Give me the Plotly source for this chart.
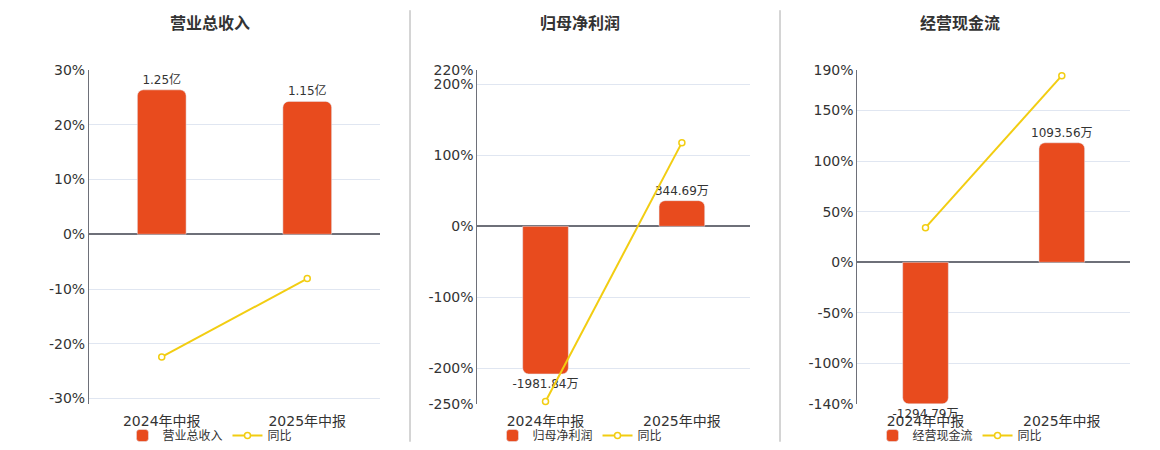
import plotly.graph_objects as go

categories = ["2024年中报", "2025年中报"]

titles = ["营业总收入", "归母净利润", "经营现金流"]
revenue = [1.25, 1.15]            # 亿
net_profit = [-1981.84, 344.69]   # 万
cash_flow = [-1294.79, 1093.56]   # 万
units = ["亿", "万", "万"]

revenue_yoy = [-22.4, -8.1]
net_profit_yoy = [-246.4, 117.8]
cash_flow_yoy = [34.2, 184.4]

ticks_1 = [-30, -20, -10, 0, 10, 20, 30]
ticks_2 = [-250, -200, -100, 0, 100, 200, 220]
ticks_3 = [-140, -100, -50, 0, 50, 100, 150, 190]

BAR = "#E84B1E"
LINE = "#F2CD12"
FONT = "DejaVu Sans, Noto Sans CJK SC"

bars = [revenue, net_profit, cash_flow]
yoys = [revenue_yoy, net_profit_yoy, cash_flow_yoy]
ticks = [ticks_1, ticks_2, ticks_3]
pct_ranges = [[-31, 30], [-250, 220], [-140, 190]]
# percent per bar unit, so the bar axis shares the zero of the % axis
scales = [21.1, 0.1048, 0.108]
x_domains = [[0.0767, 0.3276], [0.4115, 0.6466], [0.7391, 0.9741]]
centers = [0.181, 0.5, 0.8276]

fig = go.Figure()
layout = dict(
    width=1160, height=450,
    margin=dict(l=0, r=0, t=70, b=45),
    paper_bgcolor="white", plot_bgcolor="white",
    font=dict(family=FONT, color="#333", size=12),
    bargap=0.665,
    annotations=[], shapes=[],
)

for i in range(3):
    n = i + 1
    xa = "x" if n == 1 else f"x{n}"
    ya = "y" if n == 1 else f"y{n}"
    yp = f"y{n + 3}"
    lg = "legend" if n == 1 else f"legend{n}"

    fig.add_trace(go.Bar(
        x=categories, y=bars[i], name=titles[i],
        marker=dict(color=BAR, cornerradius=6),
        text=[f"{v:.2f}{units[i]}" for v in bars[i]],
        textposition="outside", cliponaxis=False, constraintext="none",
        textfont=dict(size=12, color="#333"),
        xaxis=xa, yaxis=ya, legend=lg,
    ))
    fig.add_trace(go.Scatter(
        x=categories, y=yoys[i], name="同比", mode="lines+markers",
        line=dict(color=LINE, width=2),
        marker=dict(symbol="circle", size=6, color="white",
                    line=dict(color=LINE, width=1.5)),
        cliponaxis=False,
        xaxis=xa, yaxis=yp, legend=lg,
    ))

    lo, hi = pct_ranges[i]
    layout["xaxis" if n == 1 else f"xaxis{n}"] = dict(
        domain=x_domains[i], anchor=ya, type="category",
        showgrid=False, showline=False, ticks="",
        tickfont=dict(size=14, color="#333"), ticklabelstandoff=7,
    )
    layout["yaxis" if n == 1 else f"yaxis{n}"] = dict(
        anchor=xa, range=[lo / scales[i], hi / scales[i]],
        showticklabels=False, showgrid=False, zeroline=False, showline=False,
    )
    layout[f"yaxis{n + 3}"] = dict(
        overlaying=ya, anchor=xa, side="left", range=[lo, hi],
        tickmode="array", tickvals=ticks[i],
        ticktext=[f"{v}%" for v in ticks[i]],
        tickfont=dict(size=14, color="#333"),
        showgrid=True, gridcolor="#E0E6F1",
        zeroline=True, zerolinecolor="#6E7079", zerolinewidth=2,
        showline=True, linecolor="#6E7079", linewidth=1,
    )
    layout[lg] = dict(
        orientation="h", x=centers[i], xanchor="center",
        y=-0.093, yanchor="middle", font=dict(size=12, color="#333"),
        bgcolor="rgba(0,0,0,0)",
    )
    layout["annotations"].append(dict(
        text=f"<b>{titles[i]}</b>", xref="paper", yref="paper",
        x=centers[i], y=1.14, xanchor="center", yanchor="middle",
        showarrow=False, font=dict(size=16, color="#333"),
    ))

for sx in [410 / 1160, 780 / 1160]:
    layout["shapes"].append(dict(
        type="line", xref="paper", yref="paper",
        x0=sx, x1=sx, y0=-0.113, y1=1.179,
        line=dict(color="#AAAAAA", width=1),
    ))

fig.update_layout(**layout)
fig.write_html("out.html", config={"displayModeBar": False},
               post_script="document.body.style.margin='0';")
